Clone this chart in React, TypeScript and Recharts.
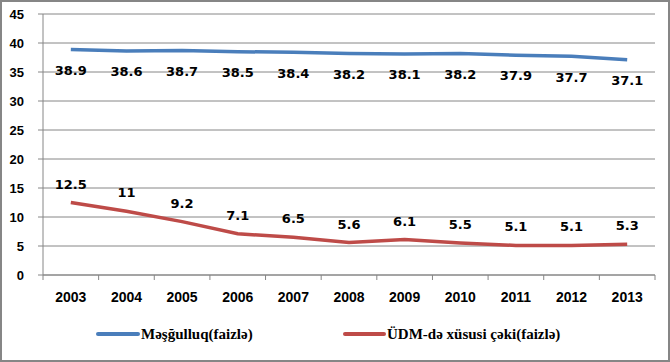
import React from "react";
import { LineChart, Line, XAxis, YAxis, CartesianGrid, Legend, LabelList } from "recharts";

const years = ["2003", "2004", "2005", "2006", "2007", "2008", "2009", "2010", "2011", "2012", "2013"];
const employment = [38.9, 38.6, 38.7, 38.5, 38.4, 38.2, 38.1, 38.2, 37.9, 37.7, 37.1];
const gdpShare = [12.5, 11, 9.2, 7.1, 6.5, 5.6, 6.1, 5.5, 5.1, 5.1, 5.3];
const yTicks = [0, 5, 10, 15, 20, 25, 30, 35, 40, 45];
const seriesNames = ["Məşğulluq(faizlə)", "ÜDM-də xüsusi çəki(faizlə)"];

const data = years.map((y, i) => ({ year: y, emp: employment[i], gdp: gdpShare[i] }));

const BLUE = "#4A7EBB";
const RED = "#BE4B48";
const GRID = "#868686";
const W = 670;
const H = 362;
const M = { top: 14, right: 15, left: 0, bottom: 14 };
const YW = 43;
const XH = 30;
const LH = 43;
const plotW = W - M.left - M.right - YW;
const plotBottom = H - M.bottom - LH - XH;
const band = plotW / years.length;
const SERIF = "'Liberation Serif', 'Times New Roman', Tinos, 'DejaVu Serif', serif";

const XTick = (props: any) => {
  const { x, payload, index } = props;
  const isLast = index === years.length - 1;
  return (
    <g>
      <line x1={x - band / 2} x2={x - band / 2} y1={plotBottom} y2={plotBottom + 5} stroke={GRID} />
      {isLast && <line x1={x + band / 2} x2={x + band / 2} y1={plotBottom} y2={plotBottom + 5} stroke={GRID} />}
      <text x={x} y={plotBottom + 27} textAnchor="middle" fontFamily="Liberation Sans" fontWeight="bold" fontSize={14} fill="#000">
        {payload.value}
      </text>
    </g>
  );
};

const LegendContent = () => (
  <svg width={W} height={LH} style={{ display: "block" }}>
    <line x1={98} x2={138} y1={29} y2={29} stroke={BLUE} strokeWidth={4} strokeLinecap="round" />
    <text x={141} y={34} style={{ fontFamily: SERIF, fontWeight: 700, fontSize: 15 }} fill="#000">
      {seriesNames[0]}
    </text>
    <line x1={345} x2={384} y1={29} y2={29} stroke={RED} strokeWidth={4} strokeLinecap="round" />
    <text x={387} y={34} style={{ fontFamily: SERIF, fontWeight: 700, fontSize: 15 }} fill="#000">
      {seriesNames[1]}
    </text>
  </svg>
);

const labelStyle = { fontFamily: "DejaVu Sans", fontWeight: "bold", fontSize: 13, fill: "#000" } as any;

export default function App() {
  return (
    <div style={{ position: "fixed", left: 0, top: 0, width: W, height: H, background: "#fff" }}>
      <LineChart width={W} height={H} data={data} margin={M}>
        <CartesianGrid vertical={false} stroke={GRID} />
        <XAxis
          dataKey="year"
          height={XH}
          padding={{ left: band / 2, right: band / 2 }}
          axisLine={{ stroke: GRID }}
          tickLine={false}
          interval={0}
          tick={<XTick />}
        />
        <YAxis
          width={YW}
          domain={[0, 45]}
          ticks={yTicks}
          interval={0}
          axisLine={{ stroke: GRID }}
          tickLine={{ stroke: GRID }}
          tickSize={5}
          tickMargin={14}
          tick={{ fontFamily: "Liberation Sans", fontWeight: "bold", fontSize: 13, fill: "#000" }}
        />
        <Legend verticalAlign="bottom" content={<LegendContent />} />
        <Line dataKey="emp" name={seriesNames[0]} stroke={BLUE} strokeWidth={3.5} dot={false} isAnimationActive={false}>
          <LabelList dataKey="emp" position="bottom" offset={16} style={labelStyle} />
        </Line>
        <Line dataKey="gdp" name={seriesNames[1]} stroke={RED} strokeWidth={3.5} dot={false} isAnimationActive={false}>
          <LabelList dataKey="gdp" position="top" offset={14} style={labelStyle} />
        </Line>
      </LineChart>
      <div style={{ position: "absolute", left: 0, top: 0, width: W, height: H, boxSizing: "border-box", border: "2px solid #868686", pointerEvents: "none" }} />
    </div>
  );
}
